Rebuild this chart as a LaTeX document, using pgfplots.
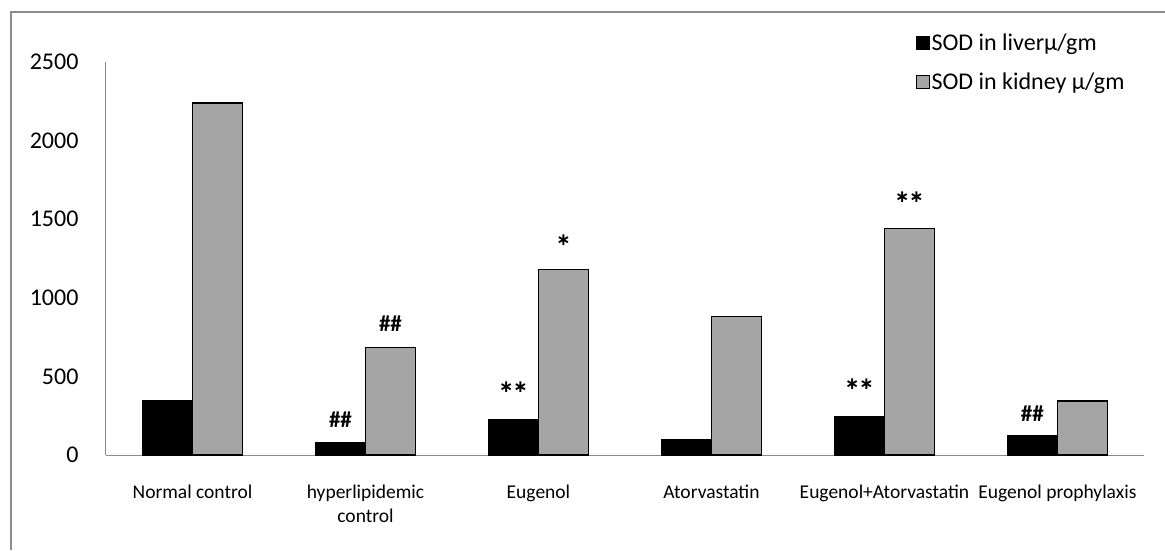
\documentclass[border=0pt]{standalone}
\usepackage{fontspec}
\setmainfont{Carlito}
\newfontfamily\djv{DejaVu Sans}
\usepackage{pgfplots}
\pgfplotsset{compat=1.18}
\definecolor{kgrey}{HTML}{A5A5A5}
\definecolor{axgrey}{HTML}{8C8C8C}
\newcommand{\st}[1]{{\djv\bfseries\fontsize{17}{20}\selectfont #1}}
\begin{document}
\begin{tikzpicture}[x=1pt,y=1pt]
\path[use as bounding box] (0,0) rectangle (1165,550);
\draw[axgrey,line width=2pt] (11,0) -- (11,538) -- (1165,538);
\begin{axis}[
  at={(106pt,95pt)}, anchor=south west,
  scale only axis, width=1038pt, height=393pt,
  xmin=-0.5, xmax=5.5, ymin=0, ymax=2500,
  ybar=0pt, bar width=50pt,
  axis x line*=bottom, axis y line*=left,
  axis line style={axgrey, line width=1pt},
  ytick={0,500,1000,1500,2000,2500},
  xtick={0,1,2,3,4,5},
  xticklabels={Normal control, {hyperlipidemic\\control}, Eugenol, Atorvastatin, Eugenol+Atorvastatin, Eugenol prophylaxis},
  xticklabel style={font=\fontsize{19.5}{24}\selectfont, align=center, yshift=-26pt, text depth=0pt},
  yticklabel style={font=\fontsize{24}{28}\selectfont, xshift=-24pt},
  /pgf/number format/assume math mode=true,
  /pgf/number format/1000 sep={},
  major tick length=0pt,
  tick style={draw=none},
  clip=false,
  legend style={at={(0.780,1.078)}, anchor=north west, draw=none, fill=none,
     font=\fontsize{24}{28}\selectfont, row sep=17pt, inner sep=0pt},
  legend cell align=left,
  legend image code/.code={\draw[#1,draw=black,line width=0.8pt] (0pt,-7pt) rectangle (13pt,6pt);},
]
\addplot[fill=black, draw=black, line width=1pt] coordinates {(0,345) (1,78) (2,228) (3,101) (4,247) (5,127)};
\addplot[fill=kgrey, draw=black, line width=1.3pt] coordinates {(0,2240) (1,685) (2,1182) (3,882) (4,1440) (5,343)};
\legend{SOD in liverμ/gm, SOD in kidney μ/gm}
\node[font=\bfseries\fontsize{23}{25}\selectfont] at ([xshift=-25pt]axis cs:1,222) {\#\#};
\node[font=\bfseries\fontsize{23}{25}\selectfont] at ([xshift=25pt]axis cs:1,838) {\#\#};
\node at ([xshift=-25pt]axis cs:2,431) {\st{∗∗}};
\node at ([xshift=25pt]axis cs:2,1364) {\st{∗}};
\node at ([xshift=-25pt]axis cs:4,450) {\st{∗∗}};
\node at ([xshift=25pt]axis cs:4,1637) {\st{∗∗}};
\node[font=\bfseries\fontsize{23}{25}\selectfont] at ([xshift=-25pt]axis cs:5,262) {\#\#};
\end{axis}
\end{tikzpicture}
\end{document}
